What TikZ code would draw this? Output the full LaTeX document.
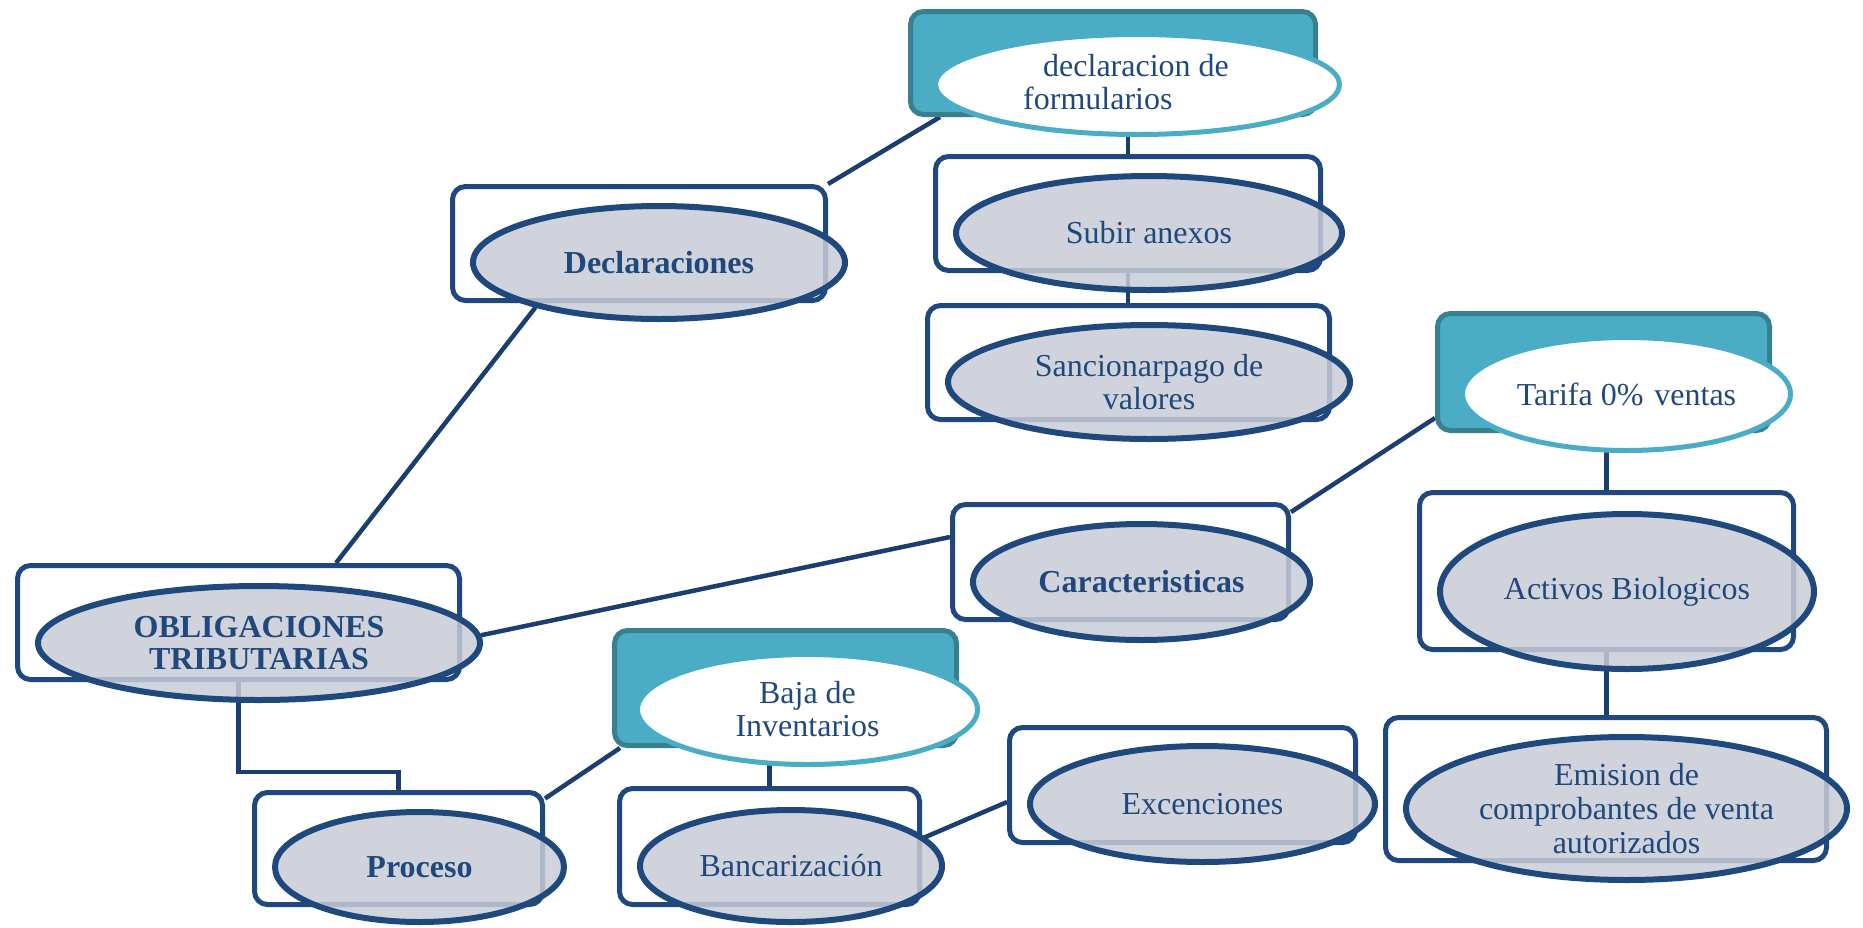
\documentclass[tikz,border=0pt]{standalone}
\usepackage{fontspec}
\setmainfont{Liberation Serif}
\usetikzlibrary{shapes.geometric,calc}
\definecolor{navy}{RGB}{31,73,125}
\definecolor{linec}{RGB}{27,62,110}
\definecolor{teal1}{RGB}{75,172,198}
\definecolor{teal2}{RGB}{56,128,143}
\definecolor{ellfill}{RGB}{200,204,214}
\pgfdeclarelayer{bg}
\pgfdeclarelayer{front}
\pgfsetlayers{bg,main,front}
\begin{document}
\begin{tikzpicture}[x=1pt,y=-1pt,
  every node/.style={font=\fontsize{32pt}{33pt}\selectfont, text=navy, inner sep=0pt},
  rbox/.style={rectangle, draw=navy, line width=5pt, fill=white, rounded corners=13pt},
  tbox/.style={rectangle, draw=teal2, line width=5pt, fill=teal1, rounded corners=13pt},
  gell/.style={ellipse, draw=navy, line width=6pt, fill=ellfill, fill opacity=0.85, text opacity=1, draw opacity=1, align=center},
  well/.style={ellipse, draw=teal1, line width=5pt, fill=white, align=center},
  conn/.style={draw=linec, line width=4.5pt}]
\useasboundingbox (0,0) rectangle (1863,927);

% rectangles
\node[rbox, minimum width=442pt, minimum height=114pt] (o1r) at (238.5,622.5) {};
\node[rbox, minimum width=373pt, minimum height=114pt] (d1r) at (639,243.5) {};
\node[tbox, minimum width=405pt, minimum height=103pt] (f1r) at (1113,63) {};
\node[rbox, minimum width=385pt, minimum height=114pt] (s1r) at (1128,213.5) {};
\node[rbox, minimum width=402pt, minimum height=114pt] (s2r) at (1128.5,362.5) {};
\node[tbox, minimum width=332pt, minimum height=117pt] (t1r) at (1603.5,372) {};
\node[rbox, minimum width=336pt, minimum height=115pt] (c1r) at (1120.5,562) {};
\node[rbox, minimum width=374pt, minimum height=157pt] (a1r) at (1606.5,571) {};
\node[rbox, minimum width=441pt, minimum height=143pt] (m1r) at (1606,789) {};
\node[rbox, minimum width=346pt, minimum height=115pt] (x1r) at (1182.5,785) {};
\node[tbox, minimum width=342pt, minimum height=115pt] (b1r) at (785.5,688) {};
\node[rbox, minimum width=300pt, minimum height=116pt] (n1r) at (769.5,846.5) {};
\node[rbox, minimum width=288pt, minimum height=112pt] (p1r) at (398.5,848.5) {};

% ellipses
\begin{pgfonlayer}{front}
\node[gell, font=\bfseries\fontsize{32pt}{32pt}\selectfont, minimum width=442pt, minimum height=114pt] (o1e) at (259,643) {OBLIGACIONES\\TRIBUTARIAS};
\node[gell, font=\bfseries\fontsize{32pt}{33pt}\selectfont, minimum width=372pt, minimum height=113pt] (d1e) at (659,262.5) {Declaraciones};
\node[well, minimum width=404pt, minimum height=100pt] (f1e) at (1137.5,84.5) {};
\node[anchor=west, align=left] (f1t) at (1023,82) {\hspace*{20pt}declaracion de\\formularios};
\node[gell, minimum width=386pt, minimum height=114pt] (s1e) at (1149,233) {Subir anexos};
\node[gell, minimum width=402pt, minimum height=114pt] (s2e) at (1149,382) {Sancionarpago de\\valores};
\node[well, minimum width=328pt, minimum height=113pt] (t1e) at (1626.5,394) {Tarifa 0\%\hspace{11pt}ventas};
\node[gell, font=\bfseries\fontsize{32pt}{33pt}\selectfont, minimum width=337pt, minimum height=116pt] (c1e) at (1141.5,582) {Caracteristicas};
\node[gell, minimum width=374pt, minimum height=155pt] (a1e) at (1627,591.5) {Activos Biologicos};
\node[gell, font=\fontsize{32pt}{34pt}\selectfont, minimum width=441pt, minimum height=143pt] (m1e) at (1626.5,808.5) {Emision de\\comprobantes de venta\\autorizados};
\node[gell, minimum width=345pt, minimum height=116pt] (x1e) at (1202.5,804) {Excenciones};
\node[well, minimum width=340pt, minimum height=110pt] (b1e) at (807.5,709.5) {Baja de\\Inventarios};
\node[gell, minimum width=302pt, minimum height=112pt] (n1e) at (791,866) {Bancarización};
\node[gell, font=\bfseries\fontsize{32pt}{33pt}\selectfont, minimum width=289pt, minimum height=110pt] (p1e) at (419.5,867) {Proceso};
\end{pgfonlayer}

% connectors
\begin{pgfonlayer}{bg}
\path[conn] ([xshift=97.5pt]o1r.north) -- (d1e.200.5);
\path[conn] (o1e.2) -- ([yshift=25pt]c1r.west);
\path[conn] (o1r.south) -- ++(0,90) -| (p1r.north);
\path[conn] ([yshift=50pt]p1r.east) -- ([xshift=8pt]b1r.south west);
\path[conn] (d1r.north east) -- ([xshift=32pt]f1r.south west);
\path[conn] (f1r.south -| s1r.north) -- (s1r.north);
\path[conn] (s1r.south) -- (s1r.south |- s2r.north);
\path[conn] ([yshift=50pt]c1r.east) -- ([yshift=-46pt]t1r.west);
\path[conn] (t1r.south -| a1r.north) -- (a1r.north);
\path[conn] (a1r.south) -- (a1r.south |- m1r.north);
\path[conn] (b1r.south -| n1r.north) -- (n1r.north);
\path[conn] ([yshift=8pt]n1r.east) -- ([yshift=-17pt]x1r.west);
\end{pgfonlayer}
\end{tikzpicture}
\end{document}
